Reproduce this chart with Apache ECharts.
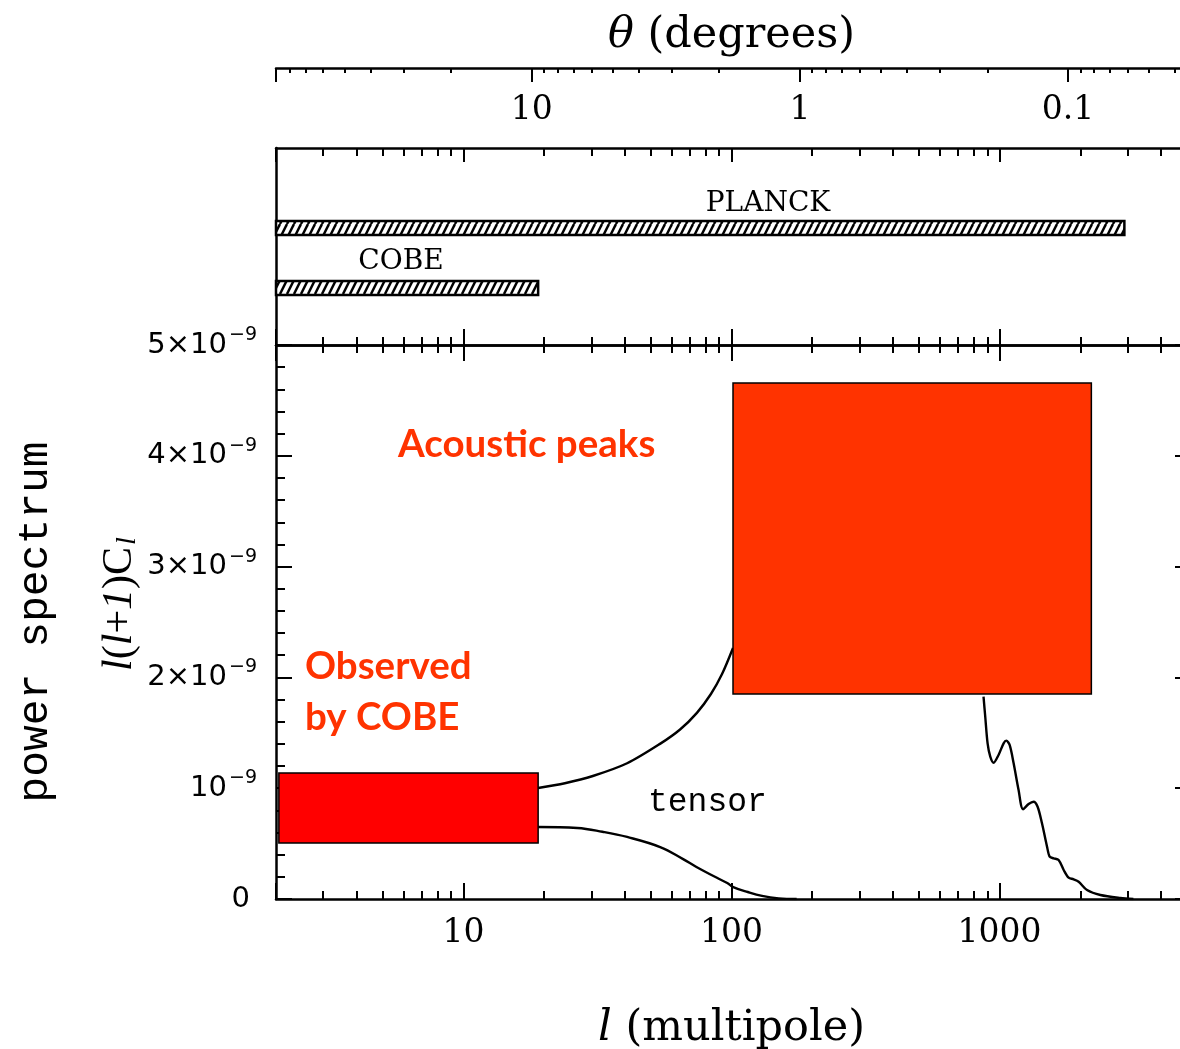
<!DOCTYPE html>
<html>
<head>
<meta charset="utf-8">
<script src="https://cdn.jsdelivr.net/npm/echarts@6/dist/echarts.min.js"></script>
<style>
  html, body { margin: 0; padding: 0; background: #fff; }
  #chart { width: 1180px; height: 1049px; }
</style>
</head>
<body>
<div id="chart"></div>
<script>
// Multipole range shared by both panels; angular scale theta ~ 180 deg / l
const lRange = [2, 5000];
const thetaRange = [180 / 5000, 180 / 2];

// Sky coverage of the two experiments in multipole l
const experiments = ['COBE', 'PLANCK'];
const expLmin = [2, 2];
const expLmax = [19, 2920];

// l(l+1)C_l in units of 1e-9 : scalar spectrum, low-l rise
const scalarLowL = [19, 23.9, 30.4, 40.8, 54.1, 64.3, 74.3, 83.8, 92.2, 101.3];
const scalarLowV = [1.002, 1.045, 1.110, 1.225, 1.400, 1.530, 1.680, 1.850, 2.030, 2.265];

// scalar spectrum, damping tail
const scalarHighL = [871, 884, 902, 923, 950, 991, 1035, 1059, 1090, 1128, 1177, 1223, 1283, 1339,
                     1386, 1439, 1503, 1537, 1591, 1660, 1734, 1809, 1888, 1972, 2119, 2376, 2821, 3155];
const scalarHighV = [1.826, 1.645, 1.405, 1.285, 1.230, 1.300, 1.405, 1.429, 1.390, 1.225, 0.984, 0.810, 0.857, 0.878,
                     0.833, 0.683, 0.472, 0.382, 0.367, 0.352, 0.262, 0.192, 0.178, 0.156, 0.081, 0.036, 0.009, 0];

// tensor contribution
const tensorL = [19, 26.6, 33, 40.8, 54.2, 66, 74, 90, 96.4, 101.5, 115, 130, 150, 175];
const tensorV = [0.650, 0.641, 0.607, 0.560, 0.469, 0.360, 0.289, 0.180, 0.144, 0.108, 0.063, 0.028, 0.006, 0];

// Highlighted regions: l span and value span (units of 1e-9)
const regionNames = ['Observed by COBE', 'Acoustic peaks'];
const regionL0 = [2.05, 101.3];
const regionL1 = [19, 2199];
const regionV0 = [0.505, 1.85];
const regionV1 = [1.137, 4.657];

// Left axis tick values (units of 1e-9)
const yTickValues = [0, 1, 2, 3, 4, 5];

const regionColors = ['#ff0000', '#ff3300'];
const annotColor = '#ff3300';

const zip = (xs, ys) => xs.map((x, i) => [x, ys[i]]);

// diagonal hatch used for the coverage bars
const hatch = document.createElement('canvas');
hatch.width = 7; hatch.height = 14;
(function () {
  const c = hatch.getContext('2d');
  c.fillStyle = '#fff';
  c.fillRect(0, 0, 7, 14);
  c.strokeStyle = '#000';
  c.lineWidth = 2.5;
  for (const x0 of [-7, 0, 7]) {
    c.beginPath();
    c.moveTo(x0, 14);
    c.lineTo(x0 + 7, 0);
    c.stroke();
  }
})();

const serif = '"DejaVu Serif", serif';
const mono = '"Liberation Mono", monospace';
const black = '#000';
const lineW = 2.5;

function logAxisBase(grid, pos) {
  return {
    type: 'log', logBase: 10, gridIndex: grid, position: pos,
    min: lRange[0], max: lRange[1],
    axisLine: { show: true, onZero: false, lineStyle: { color: black, width: lineW } },
    axisTick: { show: true, inside: true, length: 16, lineStyle: { color: black, width: 2 } },
    minorTick: { show: true, splitNumber: 9, length: 8, lineStyle: { color: black, width: 2 } },
    axisLabel: { show: false },
    splitLine: { show: false },
    minorSplitLine: { show: false }
  };
}

function yLabel(v) {
  if (v === 0) return '{z|0}';
  if (v === 1) return '{b|10}{s|\u22129}';
  return '{b|' + v + '\u00d710}{s|\u22129}';
}

const chart = echarts.init(document.getElementById('chart'), null, { renderer: 'canvas' });

const gridBase = { left: 276, width: 911, outerBoundsMode: 'none', containLabel: false };

chart.setOption({
  animation: false,
  backgroundColor: '#fff',
  grid: [
    Object.assign({ top: 68, height: 80 }, gridBase),
    Object.assign({ top: 148, height: 197 }, gridBase),
    Object.assign({ top: 345, height: 554 }, gridBase)
  ],
  xAxis: [
    {
      type: 'log', logBase: 10, gridIndex: 0, position: 'top', inverse: true,
      min: thetaRange[0], max: thetaRange[1],
      axisLine: { show: true, onZero: false, lineStyle: { color: black, width: lineW } },
      axisTick: { show: true, inside: true, length: 14, lineStyle: { color: black, width: 2 } },
      minorTick: { show: true, splitNumber: 9, length: 5, lineStyle: { color: black, width: 2 } },
      axisLabel: {
        show: true, inside: true, margin: 26, showMinLabel: false, showMaxLabel: false,
        fontFamily: serif, fontSize: 33, color: black, formatter: v => String(v)
      },
      splitLine: { show: false },
      name: '{t|\u03b8} (degrees)', nameLocation: 'middle', nameGap: 11,
      nameTextStyle: {
        fontFamily: serif, fontSize: 43, color: black,
        rich: { t: { fontFamily: serif, fontStyle: 'italic', fontSize: 43, color: black } }
      }
    },
    Object.assign(logAxisBase(1, 'top'), { axisTick: { show: true, inside: true, length: 14, lineStyle: { color: black, width: 2 } } }),
    logAxisBase(1, 'bottom'),
    logAxisBase(2, 'top'),
    Object.assign(logAxisBase(2, 'bottom'), {
      axisLabel: {
        show: true, margin: 18, showMinLabel: false, showMaxLabel: false,
        fontFamily: serif, fontSize: 33, color: black, formatter: v => String(v)
      },
      name: '{t|l} (multipole)', nameLocation: 'middle', nameGap: 108,
      nameTextStyle: {
        fontFamily: serif, fontSize: 43, color: black,
        rich: { t: { fontFamily: serif, fontStyle: 'italic', fontSize: 43, color: black } }
      }
    })
  ],
  yAxis: [
    { type: 'value', gridIndex: 0, show: false, min: 0, max: 1 },
    {
      type: 'value', gridIndex: 1, position: 'left', min: -0.95, max: 2.333,
      axisLine: { show: true, onZero: false, lineStyle: { color: black, width: lineW } },
      axisTick: { show: false }, axisLabel: { show: false }, splitLine: { show: false }
    },
    {
      type: 'value', gridIndex: 2, position: 'left',
      min: yTickValues[0], max: yTickValues[yTickValues.length - 1], interval: 1,
      axisLine: { show: true, onZero: false, lineStyle: { color: black, width: lineW } },
      axisTick: { show: true, inside: true, length: 16, lineStyle: { color: black, width: 2 } },
      minorTick: { show: true, splitNumber: 5, length: 9, lineStyle: { color: black, width: 2 } },
      splitLine: { show: false },
      axisLabel: {
        show: true, margin: 19, formatter: yLabel,
        rich: {
          b: { fontFamily: '"DejaVu Sans", sans-serif', fontSize: 29, color: black },
          s: { fontFamily: '"DejaVu Sans", sans-serif', fontSize: 19, color: black, padding: [0, 0, 20, 2] },
          z: { fontFamily: '"DejaVu Sans", sans-serif', fontSize: 29, color: black, padding: [0, 7, 0, 0] }
        }
      },
      name: 'power spectrum', nameLocation: 'middle', nameGap: 219, nameRotate: 90,
      nameTextStyle: { fontFamily: mono, fontSize: 43, color: black }
    },
    {
      type: 'value', gridIndex: 2, position: 'right',
      min: yTickValues[0], max: yTickValues[yTickValues.length - 1], interval: 1,
      axisLine: { show: true, onZero: false, lineStyle: { color: black, width: lineW } },
      axisTick: { show: true, inside: true, length: 12, lineStyle: { color: black, width: 2 } },
      minorTick: { show: true, splitNumber: 5, length: 6, lineStyle: { color: black, width: 2 } },
      axisLabel: { show: false }, splitLine: { show: false }
    }
  ],
  graphic: [
    { type: 'text', x: 768, y: 204, style: { text: 'PLANCK', font: '28px "DejaVu Serif"', fill: black, align: 'center', verticalAlign: 'middle' } },
    { type: 'text', x: 401, y: 262, style: { text: 'COBE', font: '28px "DejaVu Serif"', fill: black, align: 'center', verticalAlign: 'middle' } },
    { type: 'text', x: 648, y: 802, style: { text: 'tensor', font: '33px "Liberation Mono"', fill: black, align: 'left', verticalAlign: 'middle' } },
    { type: 'text', x: 398, y: 445, z: 10, style: { text: 'Acoustic peaks', font: 'bold 38.5px Lato', fill: annotColor, align: 'left', verticalAlign: 'middle' } },
    { type: 'text', x: 305, y: 667, z: 10, style: { text: 'Observed', font: 'bold 38.5px Lato', fill: annotColor, align: 'left', verticalAlign: 'middle' } },
    { type: 'text', x: 305, y: 718, z: 10, style: { text: 'by COBE', font: 'bold 38.5px Lato', fill: annotColor, align: 'left', verticalAlign: 'middle' } },
    {
      type: 'text', x: 120, y: 604, rotation: Math.PI / 2,
      style: {
        text: '{i|l}{n|(}{i|l}{n|+}{i|1}{n|)C}{sub|l}',
        align: 'center', verticalAlign: 'middle',
        rich: {
          i: { fontFamily: '"Liberation Serif", serif', fontStyle: 'italic', fontSize: 42, fill: black },
          n: { fontFamily: '"Liberation Serif", serif', fontSize: 42, fill: black },
          sub: { fontFamily: '"Liberation Serif", serif', fontStyle: 'italic', fontSize: 28, fill: black, padding: [16, 0, 0, 2] }
        }
      }
    }
  ],
  series: [
    {
      name: 'coverage', type: 'custom', xAxisIndex: 2, yAxisIndex: 1, z: 3,
      encode: { x: [0, 1], y: 2 },
      data: experiments.map((n, i) => [expLmin[i], expLmax[i], i]),
      renderItem: function (params, api) {
        const a = api.coord([api.value(0), api.value(2)]);
        const b = api.coord([api.value(1), api.value(2)]);
        return {
          type: 'rect',
          shape: { x: a[0], y: a[1] - 7, width: b[0] - a[0], height: 14 },
          style: { fill: { image: hatch, repeat: 'repeat' }, stroke: black, lineWidth: 2.5 }
        };
      }
    },
    {
      name: 'tensor', type: 'line', xAxisIndex: 4, yAxisIndex: 2, z: 2,
      data: zip(tensorL, tensorV), symbol: 'none', smooth: 0.4,
      lineStyle: { color: black, width: 2.4 }
    },
    {
      name: 'scalar', type: 'line', xAxisIndex: 4, yAxisIndex: 2, z: 2,
      data: zip(scalarLowL, scalarLowV), symbol: 'none', smooth: 0.3,
      lineStyle: { color: black, width: 2.4 }
    },
    {
      name: 'scalar tail', type: 'line', xAxisIndex: 4, yAxisIndex: 2, z: 2,
      data: zip(scalarHighL, scalarHighV), symbol: 'none', smooth: 0.3,
      lineStyle: { color: black, width: 2.4 }
    },
    {
      name: 'regions', type: 'custom', xAxisIndex: 4, yAxisIndex: 2, z: 5,
      encode: { x: [0, 1], y: [2, 3] },
      data: regionNames.map((n, i) => [regionL0[i], regionL1[i], regionV0[i], regionV1[i]]),
      renderItem: function (params, api) {
        const a = api.coord([api.value(0), api.value(3)]);
        const b = api.coord([api.value(1), api.value(2)]);
        return {
          type: 'rect',
          shape: { x: a[0], y: a[1], width: b[0] - a[0], height: b[1] - a[1] },
          style: { fill: regionColors[params.dataIndex], stroke: black, lineWidth: 1.5 }
        };
      }
    }
  ]
});
</script>
</body>
</html>
